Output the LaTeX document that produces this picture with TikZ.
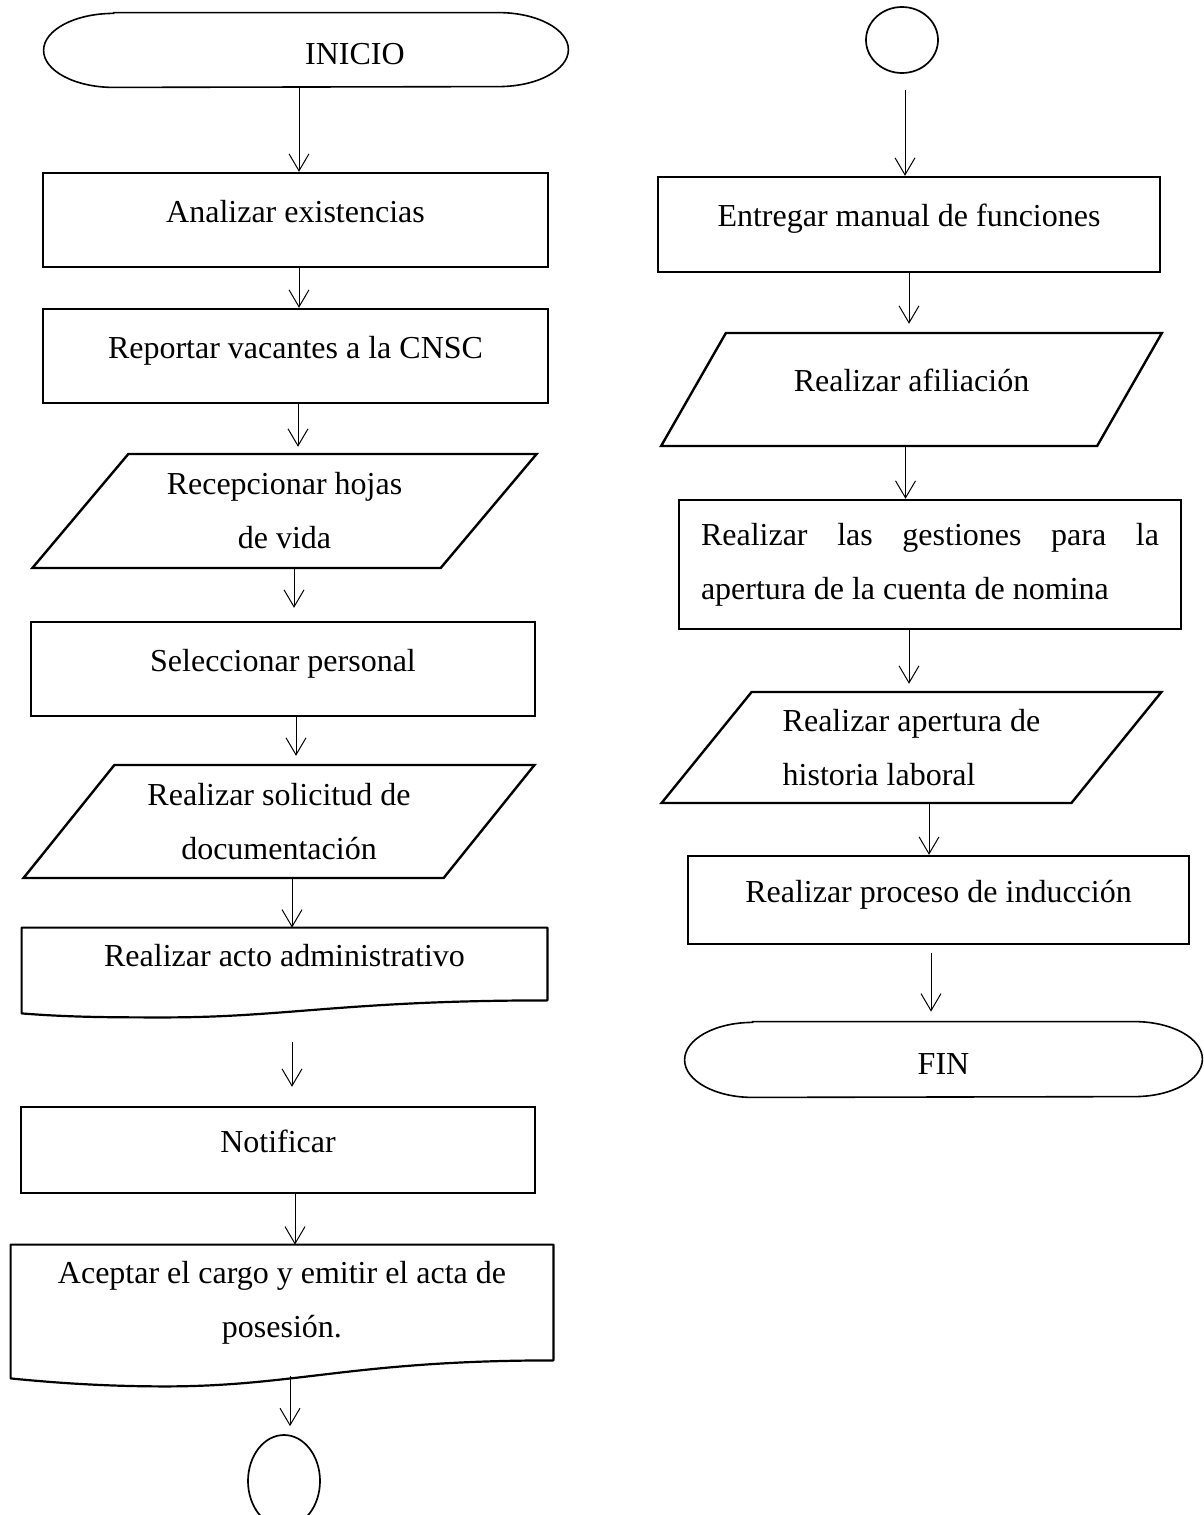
\documentclass[tikz,border=0pt]{standalone}
\usepackage{fontspec}
\setmainfont{Liberation Serif}
\usetikzlibrary{arrows.meta,shapes.geometric}

\begin{document}
\begin{tikzpicture}[x=0.5pt,y=0.5pt,
    every node/.style={font=\fontsize{16}{27}\selectfont,inner sep=2pt},
    proc/.style={draw,line width=1.2pt},
    oneline/.style={text height=11pt,text depth=9pt},
    io/.style={trapezium,draw,line width=1.2pt,trapezium left angle=48.5,
        trapezium right angle=131.5,trapezium stretches=true},
    doc/.style={rectangle},
    term/.style={rectangle,text height=14.5pt,text depth=0pt},
    conn/.style={ellipse,draw,line width=0.85pt},
    outline/.style={line width=0.8pt},
    docline/.style={line width=1.1pt,line join=round},
    flow/.style={line width=0.5pt,-{Straight Barb[length=8.5pt,width=10pt]}}]

    \clip (0,0) rectangle (1204,-1515);
    \fill[white] (0,0) rectangle (1204,-1515);

    % left column
    \node[term,minimum width=262pt,minimum height=37pt] (ini) at (306,-50) {\hspace*{49pt}INICIO};
    \node[proc,oneline,minimum width=252.5pt,minimum height=47pt] (ana) at (295.5,-220) {Analizar existencias};
    \node[proc,oneline,minimum width=252.5pt,minimum height=47pt] (rep) at (295.5,-356) {Reportar vacantes a la CNSC};
    \node[io,align=center,minimum width=252.5pt,minimum height=57pt] (recep) at (284.5,-511) {Recepcionar hojas\\de vida};
    \node[proc,oneline,minimum width=252pt,minimum height=47pt] (sel) at (283,-669) {Seleccionar personal};
    \node[io,align=center,minimum width=256pt,minimum height=56.5pt] (sol) at (279,-821.5) {Realizar solicitud de\\documentación};
    \node[doc,oneline,minimum width=262.5pt,minimum height=36pt] (acto) at (284.5,-964) {Realizar acto administrativo};
    \node[proc,oneline,minimum width=257pt,minimum height=43pt] (notif) at (278,-1150) {Notificar};
    \node[doc,align=center,minimum width=271pt,minimum height=57.5pt] (acep) at (282,-1302.5) {Aceptar el cargo y emitir el acta de\\posesión.};
    \node[conn,minimum width=36pt,minimum height=46pt] (con1) at (284,-1481) {};

    % right column
    \node[conn,minimum width=36pt,minimum height=33pt] (con2) at (902,-40) {};
    \node[proc,oneline,minimum width=251pt,minimum height=47.5pt] (entr) at (909,-224.5) {Entregar manual de funciones};
    \node[io,oneline,minimum width=250.5pt,minimum height=56.5pt] (afil) at (911.5,-389.5) {Realizar afiliación};
    \node[proc,align=left,minimum width=251pt,minimum height=64.5pt] (gest) at (930,-564.5) {\makebox[229pt][s]{Realizar las gestiones para la}\\apertura de la cuenta de nomina};
    \node[io,align=left,minimum width=250.5pt,minimum height=55.5pt] (hist) at (911.5,-747.5) {Realizar apertura de\\historia laboral};
    \node[proc,oneline,minimum width=250.5pt,minimum height=44pt] (ind) at (938.5,-900) {Realizar proceso de inducción};
    \node[term,minimum width=258.5pt,minimum height=37.5pt] (fin) at (943.5,-1059.5) {FIN};

    % terminal outlines
    \draw[outline] ([xshift=35pt]ini.north west) -- ([xshift=-35pt]ini.north east)
        arc[start angle=90,end angle=-90,x radius=35pt,y radius=18.5pt]
        -- ([xshift=35pt]ini.south west)
        arc[start angle=270,end angle=90,x radius=35pt,y radius=18.5pt] -- cycle;
    \draw[outline] ([xshift=34pt]fin.north west) -- ([xshift=-34pt]fin.north east)
        arc[start angle=90,end angle=-90,x radius=34pt,y radius=18.75pt]
        -- ([xshift=34pt]fin.south west)
        arc[start angle=270,end angle=90,x radius=34pt,y radius=18.75pt] -- cycle;

    % document outlines
    \draw[docline] (acto.north west) -- (acto.north east) -- (acto.south east)
        .. controls +(-200,0) and +(120,0) .. ([shift={(-382,-17)}]acto.south east)
        .. controls +(-50,0) and +(50,-4) .. ([yshift=-6.5pt]acto.south west) -- cycle;
    \draw[docline] (acep.north west) -- (acep.north east) -- (acep.south east)
        .. controls +(-200,0) and +(130,0) .. ([shift={(-388,-26)}]acep.south east)
        .. controls +(-55,0) and +(50,-5) .. ([yshift=-9pt]acep.south west) -- cycle;

    % connectors
    \draw[flow] ([xshift=-3.5pt]ini.south) -- ([xshift=-3.5pt]ini.south |- ana.north);
    \draw[flow] ([xshift=1.75pt]ana.south) -- ([xshift=1.75pt]ana.south |- rep.north);
    \draw[flow,shorten >=3pt] ([xshift=1.25pt]rep.south) -- ([xshift=1.25pt]rep.south |- recep.north);
    \draw[flow,shorten >=6.5pt] ([xshift=4.75pt]recep.south) -- ([xshift=4.75pt]recep.south |- sel.north);
    \draw[flow,shorten >=4pt] ([xshift=6.5pt]sel.south) -- ([xshift=6.5pt]sel.south |- sol.north);
    \draw[flow] ([xshift=6.5pt]sol.south) -- ([xshift=6.5pt]sol.south |- acto.north);
    \draw[flow,shorten <=21pt,shorten >=9.5pt] ([xshift=3.75pt]acto.south) -- ([xshift=3.75pt]acto.south |- notif.north);
    \draw[flow] ([xshift=8.5pt]notif.south) -- ([xshift=8.5pt]notif.south |- acep.north);
    \draw[flow,shorten <=8pt,shorten >=4pt] ([xshift=4pt]acep.south) -- ([xshift=4pt]acep.south |- con1.north);

    \draw[flow,shorten <=8pt] ([xshift=1.5pt]con2.south) -- ([xshift=1.5pt]con2.south |- entr.north);
    \draw[flow,shorten >=4pt] (entr.south) -- (entr.south |- afil.north);
    \draw[flow] ([xshift=-3pt]afil.south) -- ([xshift=-3pt]afil.south |- gest.north);
    \draw[flow,shorten >=3.5pt] ([xshift=-10.5pt]gest.south) -- ([xshift=-10.5pt]gest.south |- hist.north);
    \draw[flow] ([xshift=8.75pt]hist.south) -- ([xshift=8.75pt]hist.south |- ind.north);
    \draw[flow,shorten <=4pt,shorten >=5pt] ([xshift=-3.75pt]ind.south) -- ([xshift=-3.75pt]ind.south |- fin.north);
\end{tikzpicture}
\end{document}
